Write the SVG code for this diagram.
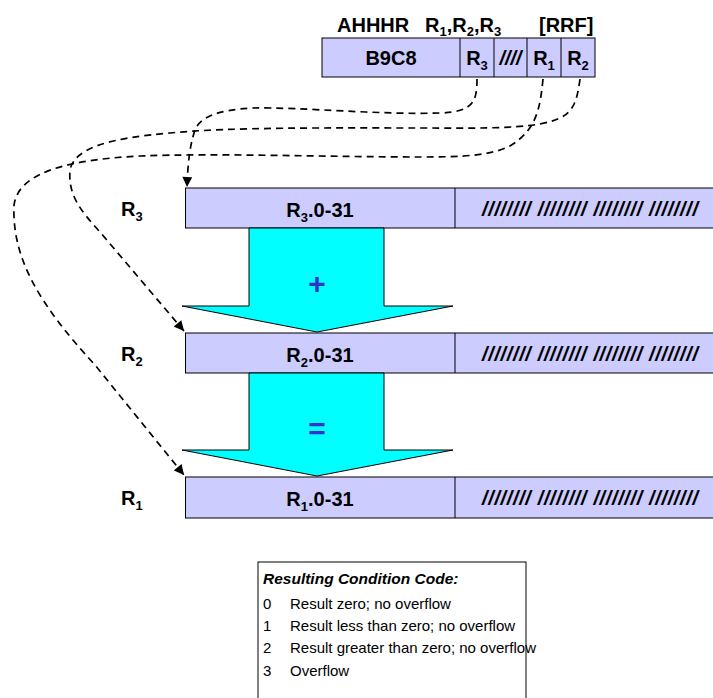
<svg xmlns="http://www.w3.org/2000/svg" width="713" height="698" viewBox="0 0 713 698">
<style>
text{font-family:"Liberation Sans",Arial,sans-serif;fill:#000}
.b{font-weight:bold;font-size:20px}
.c{text-anchor:middle}
.bar{fill:#CCCCFF;stroke:#000;stroke-width:1}
.arr{fill:#00FFFF;stroke:#000;stroke-width:1}
.op{fill:#3333CC;font-weight:bold;font-size:30px;text-anchor:middle}
.sl{font-weight:bold;font-style:italic;font-size:20px;text-anchor:middle}
.dash{fill:none;stroke:#000;stroke-width:1.7;stroke-dasharray:7 5}
.cc{font-size:15px}
</style>
<defs>
<marker id="ah" viewBox="0 0 10 10" refX="10" refY="5" markerWidth="11" markerHeight="10" markerUnits="userSpaceOnUse" orient="auto">
<path d="M0,0 L10,5 L0,10 z" fill="#000"/>
</marker>
</defs>

<g id="title">
<text class="b" x="337" y="32">AHHHR</text>
<text class="b" x="425" y="32">R<tspan dy="4" font-size="13">1</tspan><tspan dy="-4">,R</tspan><tspan dy="4" font-size="13">2</tspan><tspan dy="-4">,R</tspan><tspan dy="4" font-size="13">3</tspan></text>
<text class="b" x="539" y="32">[RRF]</text>
</g>

<g id="instr">
<rect class="bar" x="322" y="38" width="273" height="39"/>
<line x1="460" y1="38" x2="460" y2="77" stroke="#000"/>
<line x1="494" y1="38" x2="494" y2="77" stroke="#000"/>
<line x1="527" y1="38" x2="527" y2="77" stroke="#000"/>
<line x1="561" y1="38" x2="561" y2="77" stroke="#000"/>
<text class="b c" x="391" y="65">B9C8</text>
<text class="b c" x="477" y="65">R<tspan dy="5" font-size="13">3</tspan></text>
<text class="sl" x="510.5" y="65">////</text>
<text class="b c" x="544" y="65">R<tspan dy="5" font-size="13">1</tspan></text>
<text class="b c" x="578" y="65">R<tspan dy="5" font-size="13">2</tspan></text>
</g>

<g id="connectors">
<path class="dash" marker-end="url(#ah)" d="M477,79 C477,102 473,112 440,113 C380,115 300,107 253,108 C215,110 200,118 195,130 C190,145 188,160 187,187"/>
<path class="dash" marker-end="url(#ah)" d="M580,79 C576,110 570,118 540,124 C510,129 470,128 420,128 C330,128 230,127 170,133 C110,138 74,148 70,170 C68,195 80,210 100,232 L184,331"/>
<path class="dash" marker-end="url(#ah)" d="M543,79 C540,110 536,130 510,146 C490,156 460,157 420,157 C330,157 220,153 140,156 C60,160 18,175 14,205 C12,255 35,300 95,365 L184,475"/>
</g>

<g id="reg3">
<text class="b" x="121" y="216">R<tspan dy="5" font-size="13">3</tspan></text>
<rect class="bar" x="185.5" y="188" width="530" height="40"/>
<line x1="455" y1="188" x2="455" y2="228" stroke="#000"/>
<text class="b c" x="320" y="217">R<tspan dy="5" font-size="13">3</tspan><tspan dy="-5">.0-31</tspan></text>
<text class="sl" x="590" y="216" textLength="216" lengthAdjust="spacing">//////// //////// //////// ////////</text>
</g>

<g id="add">
<polygon class="arr" points="249,228 384,228 384,306 453,306 317,332 182,306 249,306"/>
<text class="op" x="317" y="294">+</text>
</g>

<g id="reg2">
<text class="b" x="121" y="361">R<tspan dy="5" font-size="13">2</tspan></text>
<rect class="bar" x="185.5" y="333" width="530" height="40"/>
<line x1="455" y1="333" x2="455" y2="373" stroke="#000"/>
<text class="b c" x="320" y="362">R<tspan dy="5" font-size="13">2</tspan><tspan dy="-5">.0-31</tspan></text>
<text class="sl" x="590" y="361" textLength="216" lengthAdjust="spacing">//////// //////// //////// ////////</text>
</g>

<g id="eq">
<polygon class="arr" points="249,373 384,373 384,450 453,450 317,476 182,450 249,450"/>
<text class="op" x="317" y="439">=</text>
</g>

<g id="reg1">
<text class="b" x="121" y="505">R<tspan dy="5" font-size="13">1</tspan></text>
<rect class="bar" x="185.5" y="477" width="530" height="41"/>
<line x1="455" y1="477" x2="455" y2="518" stroke="#000"/>
<text class="b c" x="320" y="506">R<tspan dy="5" font-size="13">1</tspan><tspan dy="-5">.0-31</tspan></text>
<text class="sl" x="590" y="505" textLength="216" lengthAdjust="spacing">//////// //////// //////// ////////</text>
</g>

<g id="cc">
<rect x="258" y="562" width="268" height="145" fill="#fff" stroke="#000" stroke-width="1"/>
<text x="263" y="584" font-size="15.5" font-weight="bold" font-style="italic">Resulting Condition Code:</text>
<text class="cc" x="263" y="609">0<tspan x="290">Result zero; no overflow</tspan></text>
<text class="cc" x="263" y="631">1<tspan x="290">Result less than zero; no overflow</tspan></text>
<text class="cc" x="263" y="653">2<tspan x="290">Result greater than zero; no overflow</tspan></text>
<text class="cc" x="263" y="676">3<tspan x="290">Overflow</tspan></text>
</g>
</svg>
